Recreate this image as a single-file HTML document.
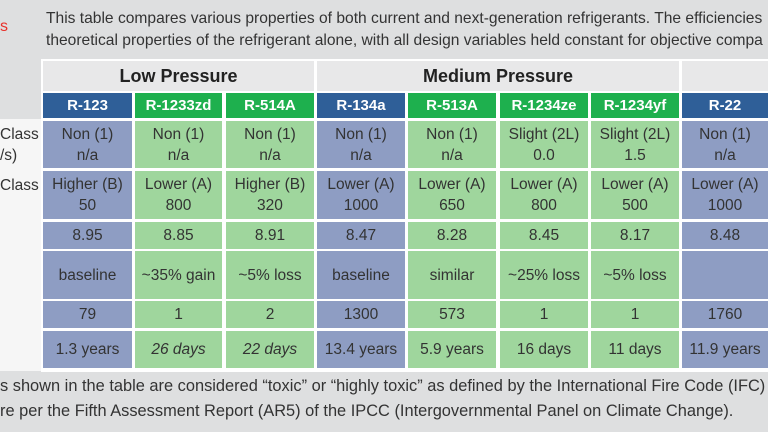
<!DOCTYPE html>
<html><head><style>
body{margin:0;width:768px;height:432px;overflow:hidden;background:#dedfe0;font-family:"Liberation Sans",sans-serif;position:relative;color:#333}
.a{position:absolute;box-sizing:border-box;display:flex;align-items:center;justify-content:center;text-align:center}
.g{background:#e8e8e9;font-weight:bold;font-size:18px;color:#222}
.hb{background:#2f5f98;color:#fff;font-weight:bold;font-size:15px}
.hc{background:#1eb04e;color:#fff;font-weight:bold;font-size:15px}
.b{background:#8e9dc3;font-size:15.5px;line-height:21px}
.c{background:#9fd69d;font-size:15.5px;line-height:21px}
.t{position:absolute;white-space:nowrap;color:#333}
.l{position:absolute;font-size:15.5px;white-space:nowrap;color:#333;line-height:21px}
</style></head><body>
<div class="t" style="left:0;top:18px;color:#e8302a;font-size:16px">s</div>
<div class="t" style="left:46px;top:10px;font-size:15.6px">This table compares various properties of both current and next-generation refrigerants. The efficiencies</div>
<div class="t" style="left:46px;top:32px;font-size:15.6px">theoretical properties of the refrigerant alone, with all design variables held constant for objective compa</div>
<div style="position:absolute;left:0;top:119px;width:42px;height:252px;background:#f6f6f6"></div>
<div style="position:absolute;left:41px;top:59px;width:727px;height:313px;background:#fff"></div>
<div class="a g" style="left:43px;top:61px;width:271px;height:30px">Low Pressure</div>
<div class="a g" style="left:317px;top:61px;width:362px;height:30px">Medium Pressure</div>
<div class="a g" style="left:682px;top:61px;width:86px;height:30px"></div>
<div class="l" style="left:0;top:124px">Class<br>/s)</div>
<div class="l" style="left:0;top:175px">Class</div>
<div id="cols"></div>
<script>
var X=[[43,89],[135,87],[226,88],[317,88],[408,88],[500,88],[591,88],[682,86]];
var T=['b','c','c','b','c','c','c','b'];
var H=['R-123','R-1233zd','R-514A','R-134a','R-513A','R-1234ze','R-1234yf','R-22'];
var R=[[121,47],[171,48],[222,27],[251,48],[301,27],[331,37]];
var D=[
['Non (1)<br>n/a','Non (1)<br>n/a','Non (1)<br>n/a','Non (1)<br>n/a','Non (1)<br>n/a','Slight (2L)<br>0.0','Slight (2L)<br>1.5','Non (1)<br>n/a'],
['Higher (B)<br>50','Lower (A)<br>800','Higher (B)<br>320','Lower (A)<br>1000','Lower (A)<br>650','Lower (A)<br>800','Lower (A)<br>500','Lower (A)<br>1000'],
['8.95','8.85','8.91','8.47','8.28','8.45','8.17','8.48'],
['baseline','~35% gain','~5% loss','baseline','similar','~25% loss','~5% loss',''],
['79','1','2','1300','573','1','1','1760'],
['1.3 years','<i>26 days</i>','<i>22 days</i>','13.4 years','5.9 years','16 days','11 days','11.9 years']];
var s='';
for(var i=0;i<8;i++){
s+='<div class="a h'+T[i]+'" style="left:'+X[i][0]+'px;top:93px;width:'+X[i][1]+'px;height:25px">'+H[i]+'</div>';
for(var r=0;r<6;r++)s+='<div class="a '+T[i]+'" style="left:'+X[i][0]+'px;top:'+R[r][0]+'px;width:'+X[i][1]+'px;height:'+R[r][1]+'px">'+D[r][i]+'</div>';}
document.getElementById('cols').innerHTML=s;
</script>
<div class="t" style="left:0;top:377px;font-size:16.4px">s shown in the table are considered “toxic” or “highly toxic” as defined by the International Fire Code (IFC)</div>
<div class="t" style="left:0;top:402px;font-size:16.4px">re per the Fifth Assessment Report (AR5) of the IPCC (Intergovernmental Panel on Climate Change).</div>
</body></html>
